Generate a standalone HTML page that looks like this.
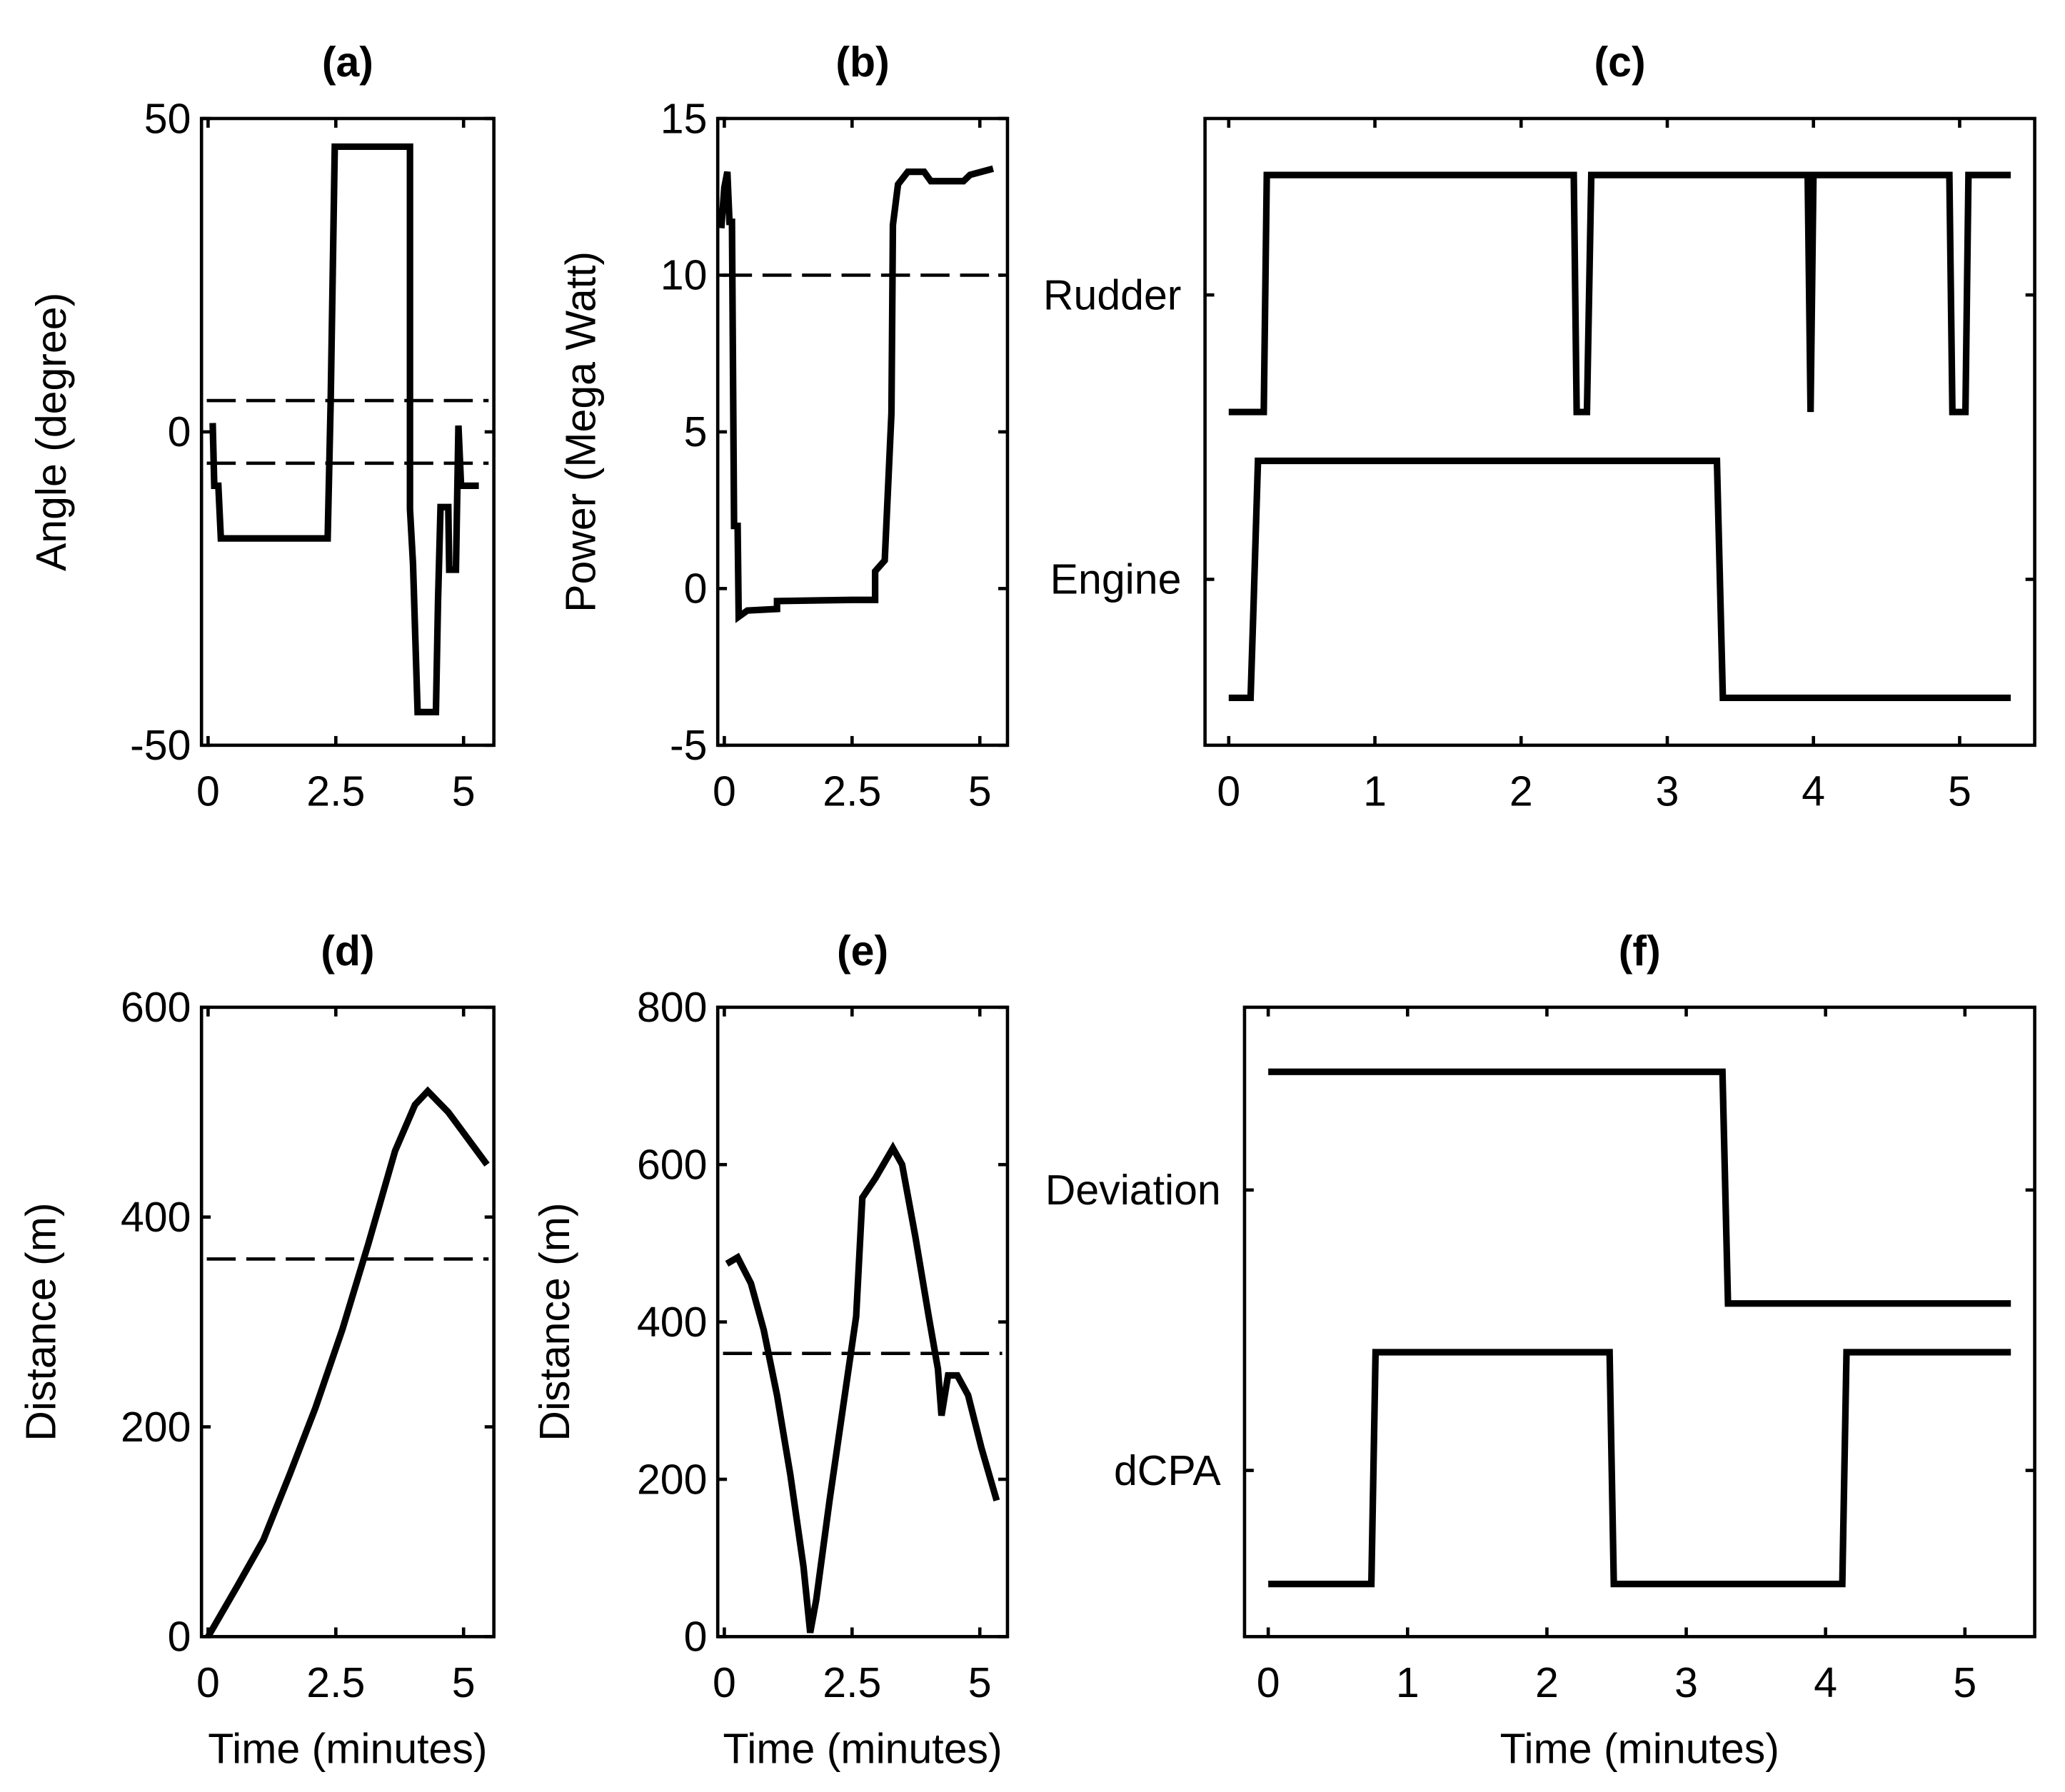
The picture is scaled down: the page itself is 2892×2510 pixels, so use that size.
<!DOCTYPE html>
<html><head><meta charset="utf-8"><style>
html,body{margin:0;padding:0;background:#fff}
svg{display:block}
text{font-family:"Liberation Sans",sans-serif;fill:#000}
</style></head><body>
<svg id="fig" width="2892" height="2510" viewBox="0 0 1568 1361" preserveAspectRatio="none" xmlns="http://www.w3.org/2000/svg"></svg>
<script>
// ---- data ----
const aTime=[0.09,0.12,0.2,0.25,2.34,2.4,2.48,3.95,3.95,4.01,4.1,4.46,4.5,4.55,4.65,4.7,4.72,4.85,4.9,4.95,5.1,5.3];
const aAngle=[1.4,-8.6,-8.6,-17,-17,5,45.5,45.5,-12.3,-21,-44.7,-44.7,-27,-12,-12,-12,-22,-22,1,-8.6,-8.6,-8.6];
const aLimits=[5,-5];
const bTime=[-0.06,0,0.06,0.1,0.15,0.19,0.26,0.28,0.45,1.03,1.03,2.5,2.95,2.95,3.14,3.27,3.3,3.4,3.59,3.91,4.04,4.68,4.81,5.26];
const bPower=[11.5,12.8,13.3,11.7,11.7,2,2,-0.9,-0.7,-0.65,-0.4,-0.36,-0.36,0.55,0.9,5.6,11.6,12.9,13.3,13.3,13,13,13.2,13.4];
const bLimit=[10];
const rudTime=[0,0.24,0.26,2.36,2.38,2.45,2.48,3.96,3.98,4.0,4.93,4.95,5.04,5.06,5.35];
const rudState=[0,0,1,1,0,0,1,1,0,1,1,0,0,1,1];
const engTime=[0,0.15,0.17,0.2,3.34,3.38,5.35];
const engState=[0,0,0.4,1,1,0,0];
const dTime=[0,0.57,1.08,1.6,2.1,2.63,3.14,3.66,4.05,4.3,4.7,5.08,5.46];
const dDist=[0,48,92,155,218,293,375,463,507,520,500,475,450];
const dLimit=[360];
const eTime=[0.05,0.26,0.52,0.77,1.03,1.29,1.55,1.68,1.8,2.06,2.32,2.58,2.7,2.96,3.3,3.48,3.74,4.0,4.18,4.25,4.38,4.56,4.77,5.03,5.33];
const eDist=[474,482,449,390,307,206,89,5,47,173,290,407,558,583,621,600,508,407,340,281,332,332,307,240,173];
const eLimit=[360];
const devTime=[0,3.26,3.3,5.33];
const devState=[1,1,0,0];
const cpaTime=[0,0.74,0.77,2.45,2.48,4.12,4.15,5.33];
const cpaState=[0,0,1,1,0,0,1,1];
const ticksA=[-50,0,50], ticksB=[-5,0,5,10,15], ticksD=[0,200,400,600], ticksE=[0,200,400,600,800];
const ticksX25=[0,2.5,5], ticksX1=[0,1,2,3,4,5];

const NS="http://www.w3.org/2000/svg";
const svg=document.getElementById('fig');
const FS=32;
function mk(tag,attrs,parent){const e=document.createElementNS(NS,tag);for(const k in attrs)e.setAttribute(k,attrs[k]);(parent||svg).appendChild(e);return e;}
function scale(d0,d1,r0,r1){return v=>r0+(v-d0)*(r1-r0)/(d1-d0);}

function panel(p){
  const g=mk('g',{});
  
  
  const X=scale(p.xd[0],p.xd[1],p.x0x,p.x1x), Y=scale(p.yd[0],p.yd[1],p.y0y,p.y1y);
  const box=mk('rect',{x:p.L,y:p.T,width:p.R-p.L,height:p.B-p.T,fill:'none',stroke:'#000','stroke-width':2.5},g);
  
  const t=mk('text',{x:(p.L+p.R)/2,y:p.T-32,'text-anchor':'middle','font-size':FS,'font-weight':'bold'},g);t.textContent=p.title;
  
  p.xt.forEach(v=>{const x=X(v);
    mk('line',{x1:x,y1:p.B,x2:x,y2:p.B-7,stroke:'#000','stroke-width':2.5},g);
    mk('line',{x1:x,y1:p.T,x2:x,y2:p.T+7,stroke:'#000','stroke-width':2.5},g);
    const l=mk('text',{x:x,y:p.B+46,'text-anchor':'middle','font-size':FS},g);l.textContent=String(v);
    });
  p.yt.forEach((v,i)=>{const y=Y(v);
    mk('line',{x1:p.L,y1:y,x2:p.L+7,y2:y,stroke:'#000','stroke-width':2.5},g);
    mk('line',{x1:p.R,y1:y,x2:p.R-7,y2:y,stroke:'#000','stroke-width':2.5},g);
    const l=mk('text',{x:p.L-(p.ytl?18:8),y:y+11,'text-anchor':'end','font-size':FS},g);l.textContent=p.ytl?p.ytl[i]:String(v);
    });
  if(p.ylab){const l=mk('text',{x:0,y:0,'text-anchor':'middle','font-size':FS,transform:`translate(${p.ylabX},${(p.T+p.B)/2}) rotate(-90)`},g);l.textContent=p.ylab;
    }
  if(p.xlab){const l=mk('text',{x:(p.L+p.R)/2,y:p.B+96,'text-anchor':'middle','font-size':FS},g);l.textContent=p.xlab;
    }
  (p.hl||[]).forEach(v=>{const y=Y(v);const ln=mk('line',{x1:p.L+4,y1:y,x2:p.R-4,y2:y,stroke:'#000','stroke-width':2.5,'stroke-dasharray':'22 8'},g);
    });
  p.series.forEach(s=>{const pts=s.x.map((v,i)=>X(v).toFixed(1)+','+Y(s.y[i]+(s.off||0)).toFixed(1)).join(' ');
    const pl=mk('polyline',{points:pts,fill:'none',stroke:'#000','stroke-width':5,'stroke-linejoin':'miter'},g);
    });
}

panel({name:'panel-a',title:'(a)',L:153,R:375,T:90,B:566,xd:[0,5],x0x:158,x1x:352,yd:[-50,50],y0y:566,y1y:90,
  xt:ticksX25,yt:ticksA,ylab:'Angle (degree)',ylabX:50,hl:aLimits,series:[{name:'angle-line',x:aTime,y:aAngle}]});
panel({name:'panel-b',title:'(b)',L:545,R:765,T:90,B:566,xd:[0,5],x0x:550,x1x:744,yd:[-5,15],y0y:566,y1y:90,
  xt:ticksX25,yt:ticksB,ylab:'Power (Mega Watt)',ylabX:452,hl:bLimit,series:[{name:'power-line',x:bTime,y:bPower}]});
panel({name:'panel-c',title:'(c)',L:915,R:1545,T:90,B:566,xd:[0,5],x0x:933,x1x:1488,yd:[0,1],y0y:530,y1y:350,
  xt:ticksX1,yt:[0.5,1.7],ytl:['Engine','Rudder'],series:[{name:'rudder-line',x:rudTime,y:rudState,off:1.206},{name:'engine-line',x:engTime,y:engState}]});
panel({name:'panel-d',title:'(d)',L:153,R:375,T:765,B:1243,xd:[0,5],x0x:158,x1x:352,yd:[0,600],y0y:1243,y1y:765,
  xt:ticksX25,yt:ticksD,ylab:'Distance (m)',ylabX:42,xlab:'Time (minutes)',hl:dLimit,series:[{name:'distance-line-d',x:dTime,y:dDist}]});
panel({name:'panel-e',title:'(e)',L:545,R:765,T:765,B:1243,xd:[0,5],x0x:550,x1x:744,yd:[0,800],y0y:1243,y1y:765,
  xt:ticksX25,yt:ticksE,ylab:'Distance (m)',ylabX:432,xlab:'Time (minutes)',hl:eLimit,series:[{name:'distance-line-e',x:eTime,y:eDist}]});
panel({name:'panel-f',title:'(f)',L:945,R:1545,T:765,B:1243,xd:[0,5],x0x:963,x1x:1492,yd:[0,1],y0y:1203,y1y:1027,
  xt:ticksX1,yt:[0.49,1.7],ytl:['dCPA','Deviation'],xlab:'Time (minutes)',series:[{name:'deviation-line',x:devTime,y:devState,off:1.21},{name:'dcpa-line',x:cpaTime,y:cpaState}]});
</script>
</body></html>
